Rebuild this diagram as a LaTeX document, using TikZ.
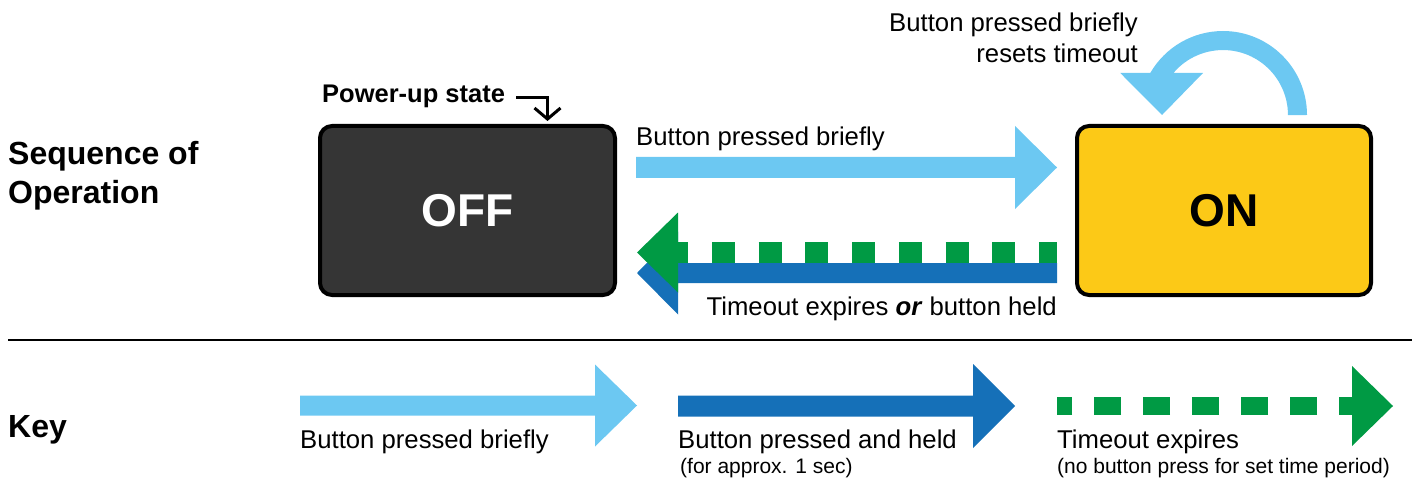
\documentclass[tikz,border=0pt]{standalone}
\usepackage{fontspec}
\setmainfont{Liberation Sans}
\usetikzlibrary{arrows.meta,calc}

\definecolor{briefblue}{RGB}{108,200,242}
\definecolor{heldblue}{RGB}{21,112,184}
\definecolor{timeoutgreen}{RGB}{0,154,68}
\definecolor{onyellow}{RGB}{252,201,23}
\definecolor{offgrey}{RGB}{53,53,53}

% Solid block arrow along a horizontal line:
% #1 colour, #2 tail, #3 tip, #4 shaft half width, #5 head half width, #6 head length
\newcommand\blockarrow[6]{%
  \path ($(#3)!#6pt!(#2)$) coordinate (hb);
  \fill[#1] ($(#2)+(0,-#4)$) -- ($(hb)+(0,-#4)$) -- ($(hb)+(0,-#5)$) -- (#3)
    -- ($(hb)+(0,#5)$) -- ($(hb)+(0,#4)$) -- ($(#2)+(0,#4)$) -- cycle;}

% Dashed block arrow: dashed shaft, solid head
% #1 colour, #2 tail, #3 tip, #4 shaft width, #5 head half width, #6 head length,
% #7 dash on, #8 dash off, #9 dash phase
\newcommand\dashedarrow[9]{%
  \path ($(#3)!#6pt!(#2)$) coordinate (hb);
  \draw[#1, line width=#4pt, line cap=butt, dash pattern=on #7pt off #8pt, dash phase=#9pt] (hb) -- (#2);
  \fill[#1] ($(hb)+(0,-#5)$) -- (#3) -- ($(hb)+(0,#5)$) -- cycle;}

\begin{document}
\begin{tikzpicture}[x=1pt, y=-1pt,
  statebox/.style={draw=black, line width=4pt, rounded corners=12pt,
    minimum width=295pt, minimum height=169pt, inner sep=0pt},
  statetext/.style={font=\fontsize{46}{50}\selectfont\bfseries},
  heading/.style={font=\fontsize{32}{38}\selectfont\bfseries, inner sep=0pt, anchor=base west},
  label/.style={font=\fontsize{25.7}{31}\selectfont, inner sep=0pt},
  smalllabel/.style={font=\fontsize{21}{25}\selectfont, inner sep=0pt, anchor=base west},
]
\useasboundingbox (0,0) rectangle (1418,489);

% ---- section headings and separator ----
\node[heading] (seq1) at (8,165) {Sequence of};
\node[heading] (seq2) at (8,204) {Operation};
\node[heading] (key)  at (8,437) {Key};
\coordinate (sepL) at (8,340);
\coordinate (sepR) at (1412,340);
\draw[line width=2.5pt] (sepL) -- (sepR);

% ---- states ----
\node[statebox, fill=offgrey, text=white, statetext] (off) at (467.5,210.5) {OFF};
\node[statebox, fill=onyellow, text=black, statetext, minimum width=294pt] (on) at (1224,210.5) {ON};

% ---- power-up marker ----
\node[label, font=\fontsize{25.5}{31}\selectfont\bfseries, anchor=base west] (pu) at (322,103) {Power-up state};
\coordinate (putip) at ($(off.north)+(80,-3)$);
\draw[line width=3pt, -{Straight Barb[length=11pt, width=26pt]}]
  ([xshift=11pt, yshift=-1pt]pu.east) -| (putip);

% ---- OFF -> ON : button pressed briefly ----
\coordinate (briefA) at (636,167.5);
\coordinate (briefB) at (1057,167.5);
\blockarrow{briefblue}{briefA}{briefB}{10.5}{41.5}{42}
\node[label, anchor=base west] (briefl) at (636,146) {Button pressed briefly};

% ---- ON -> OFF : timeout or held ----
\coordinate (heldA) at (1057,273);
\coordinate (heldB) at (637,273);
\blockarrow{heldblue}{heldA}{heldB}{10}{41.5}{41}
\coordinate (toA) at (1057,252.5);
\coordinate (toB) at (637,252.5);
\dashedarrow{timeoutgreen}{toA}{toB}{21}{40}{41}{23}{23.7}{12.7}
\node[label, anchor=base east] (backl) at (1057,315) {Timeout expires \textbf{\textit{or}} button held};

% ---- ON self loop ----
\coordinate (loopc) at (1223,115);
\fill[briefblue] ($(loopc)+(84,0)$) arc[start angle=0, end angle=-150, radius=84]
  -- ++(-30,0) -- ($(loopc)+(-61,0)$) -- ($(loopc)+(-20,-42)$)
  -- ($(loopc)+(-49.6,-42)$) arc[start angle=-139.7, end angle=0, radius=65] -- cycle;
\node[label, anchor=base east] (loopl1) at (1138,32) {Button pressed briefly};
\node[label, anchor=base east] (loopl2) at (1138,63) {resets timeout};

% ---- key ----
\coordinate (k1A) at (300,405.5);
\coordinate (k1B) at (637,405.5);
\blockarrow{briefblue}{k1A}{k1B}{10}{41}{42}
\node[label, anchor=base west] (k1l) at (300,448) {Button pressed briefly};

\coordinate (k2A) at (678,406);
\coordinate (k2B) at (1015,406);
\blockarrow{heldblue}{k2A}{k2B}{10.5}{42}{42}
\node[label, anchor=base west] (k2l) at (678,448) {Button pressed and held};
\node[smalllabel] (k2s) at (680,473) {(for approx. 1 sec)};

\coordinate (k3A) at (1057,406);
\coordinate (k3B) at (1393,406);
\dashedarrow{timeoutgreen}{k3A}{k3B}{18}{40}{41}{27}{22}{14}
\node[label, anchor=base west] (k3l) at (1057,448) {Timeout expires};
\node[smalllabel] (k3s) at (1057,473) {(no button press for set time period)};
\end{tikzpicture}
\end{document}
